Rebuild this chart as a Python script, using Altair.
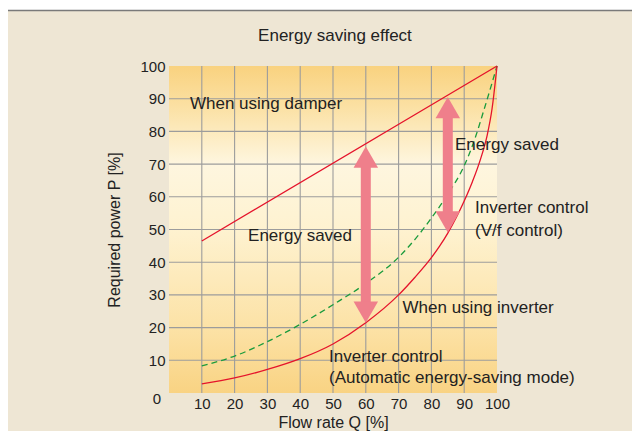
import altair as alt
import pandas as pd

FONT = "Liberation Sans"
TXT = "#222222"

# ---- data ----
tick_vals = [10, 20, 30, 40, 50, 60, 70, 80, 90, 100]
grid_vals = [10, 20, 30, 40, 50, 60, 70, 80, 90]

damper_flow = [10, 100]
damper_power = [46.5, 100]

vf_flow = [10, 20, 30, 40, 50, 60, 70, 75, 80, 85, 90, 93, 96, 100]
vf_power = [8.3, 11.3, 15.7, 21, 27, 33.5, 41.5, 47, 53.5, 60.8, 69.5, 77, 86.5, 100]

auto_flow = [10, 20, 30, 40, 50, 60, 70, 75, 80, 82.5, 85, 87.5, 90, 92.5, 95, 97, 98.5, 100]
auto_power = [2.8, 4.6, 7.2, 10.5, 15, 21.5, 30, 35.4, 41.4, 44.9, 48.9, 53.5, 58.7, 64.6, 71.6, 78.8, 87, 100]

arrow_flow = [60, 85]
arrow_low = [21.5, 49.1]
arrow_high = [75.4, 90.5]

labels_text = ["When using damper", "Energy saved", "Energy saved", "Inverter control",
               "(V/f control)", "When using inverter", "Inverter control",
               "(Automatic energy-saving mode)"]
labels_x = [6.4, 24.1, 87.2, 93.3, 93.3, 71.2, 48.8, 48.8]
labels_y = [88.5, 48.1, 75.9, 56.5, 49.6, 26.0, 11.0, 4.6]

title_text = "Energy saving effect"

# ---- shared scales / axes ----
xscale = alt.Scale(domain=[0, 100], nice=False, zero=False)
yscale = alt.Scale(domain=[0, 100], nice=False, zero=False)
x_axis = alt.Axis(values=tick_vals, grid=False, ticks=False, tickSize=0, domain=False,
                  labelFontSize=15, labelFont=FONT, labelColor=TXT, labelPadding=3,
                  labelFlush=False, labelOverlap=False,
                  title="Flow rate Q [%]", titleFont=FONT, titleFontSize=16,
                  titleFontWeight="normal", titleColor=TXT, titlePadding=3)
y_axis = alt.Axis(values=tick_vals, grid=False, ticks=False, tickSize=0, domain=False,
                  labelFontSize=15, labelFont=FONT, labelColor=TXT, labelPadding=4,
                  labelFlush=False, labelOverlap=False,
                  title="Required power P [%]", titleFont=FONT, titleFontSize=16,
                  titleFontWeight="normal", titleColor=TXT, titlePadding=17)


def X(f):
    return alt.X(f, type="quantitative", scale=xscale, axis=x_axis)


def Y(f):
    return alt.Y(f, type="quantitative", scale=yscale, axis=y_axis)


bg_df = pd.DataFrame({"x": [0], "x2": [100], "y": [0], "y2": [100]})
grad = alt.Gradient(
    gradient="linear", x1=0, x2=0, y1=0, y2=1,
    stops=[
        alt.GradientStop(offset=0, color="#F9D27F"),
        alt.GradientStop(offset=0.12, color="#FBE0A2"),
        alt.GradientStop(offset=0.3, color="#FEF6DF"),
        alt.GradientStop(offset=0.5, color="#FEF2D0"),
        alt.GradientStop(offset=0.8, color="#FCE2A6"),
        alt.GradientStop(offset=1, color="#F9D383"),
    ],
)
bg = alt.Chart(bg_df).mark_rect(color=grad).encode(x=X("x"), x2="x2", y=Y("y"), y2="y2")

vgrid_df = pd.DataFrame({"x": grid_vals, "y": [0] * len(grid_vals), "y2": [100] * len(grid_vals)})
hgrid_df = pd.DataFrame({"y": grid_vals, "x": [0] * len(grid_vals), "x2": [100] * len(grid_vals)})
vgrid = alt.Chart(vgrid_df).mark_rule(color="#9C9C9C", strokeWidth=1.1).encode(x=X("x"), y=Y("y"), y2="y2")
hgrid = alt.Chart(hgrid_df).mark_rule(color="#9C9C9C", strokeWidth=1.1).encode(y=Y("y"), x=X("x"), x2="x2")

damper = alt.Chart(pd.DataFrame({"x": damper_flow, "y": damper_power})).mark_line(
    color="#E5132B", strokeWidth=1.3).encode(x=X("x"), y=Y("y"))
vf = alt.Chart(pd.DataFrame({"x": vf_flow, "y": vf_power})).mark_line(
    color="#1A9B3C", strokeWidth=1.3, strokeDash=[6, 4], interpolate="monotone").encode(x=X("x"), y=Y("y"))
auto = alt.Chart(pd.DataFrame({"x": auto_flow, "y": auto_power})).mark_line(
    color="#E5132B", strokeWidth=1.3, interpolate="monotone").encode(x=X("x"), y=Y("y"))

arr_df = pd.DataFrame({"x": arrow_flow, "lo": arrow_low, "hi": arrow_high})
ARROW = "#EF7F8B"
shaft = alt.Chart(arr_df).mark_rule(color=ARROW, strokeWidth=10, yOffset=-12, y2Offset=12).encode(
    x=X("x"), y=Y("lo"), y2="hi")
head_up = alt.Chart(arr_df).mark_point(shape="triangle-up", size=600, filled=True, opacity=1,
                                        color=ARROW, yOffset=10.6).encode(x=X("x"), y=Y("hi"))
head_dn = alt.Chart(arr_df).mark_point(shape="triangle-down", size=600, filled=True, opacity=1,
                                        color=ARROW, yOffset=-10.6).encode(x=X("x"), y=Y("lo"))

lab_df = pd.DataFrame({"t": labels_text, "x": labels_x, "y": labels_y})
labels = alt.Chart(lab_df).mark_text(align="left", baseline="middle", font=FONT, fontSize=17,
                                      color=TXT).encode(x=X("x"), y=Y("y"), text="t")

title = alt.Chart(pd.DataFrame({"x": [50.6], "y": [109.3], "t": [title_text]})).mark_text(
    align="center", baseline="middle", font=FONT, fontSize=17, color=TXT).encode(
    x=X("x"), y=Y("y"), text="t")

zero = alt.Chart(pd.DataFrame({"x": [-3.66], "y": [-1.74], "t": ["0"]})).mark_text(
    align="center", baseline="middle", font=FONT, fontSize=15, color=TXT).encode(
    x=X("x"), y=Y("y"), text="t")

frame_white = alt.Chart(bg_df).mark_rect(color="white").encode(
    x=alt.value(-161), x2=alt.value(463), y=alt.value(-58), y2=alt.value(-56))
frame_line = alt.Chart(bg_df).mark_rule(color="#7A7A7A", strokeWidth=1.5).encode(
    x=alt.value(-161), x2=alt.value(463), y=alt.value(-55.5))

chart = alt.layer(
    bg, vgrid, hgrid, damper, vf, auto, shaft, head_up, head_dn, labels, title, zero,
    frame_white, frame_line,
).properties(
    width=328, height=327,
    background="#EEE6D4",
    autosize=alt.AutoSizeParams(type="none"),
    padding={"left": 161, "top": 58, "right": 135, "bottom": 38},
).configure_view(stroke=None)

chart.save("out.html", embed_options={"renderer": "svg", "actions": False})
